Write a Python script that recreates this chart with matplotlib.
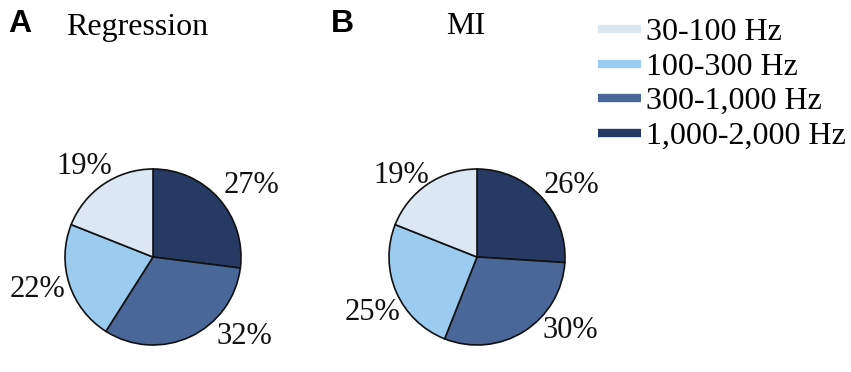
import numpy as np
import matplotlib
matplotlib.use('Agg')
import matplotlib.pyplot as plt
from matplotlib.lines import Line2D

plt.rcParams['font.family'] = 'Liberation Serif'

bands = ['30-100 Hz', '100-300 Hz', '300-1,000 Hz', '1,000-2,000 Hz']
colors = ['#dce7f4', '#9ccbf0', '#4a6799', '#263a63']

# values listed clockwise from 12 o'clock: 1,000-2,000 / 300-1,000 / 100-300 / 30-100
regression = [27, 32, 22, 19]
mi = [26, 30, 25, 19]

W, H = 851, 372
fig = plt.figure(figsize=(W / 100, H / 100), dpi=100)

R = 88  # pie radius in px
half = 1.4 * R


def pie_axes(cx, cy):
    return fig.add_axes([(cx - half) / W, (H - cy - half) / H, 2 * half / W, 2 * half / H])


def draw(ax, vals, label_pos):
    wedge_colors = colors[::-1]
    wedges, texts, autotexts = ax.pie(
        vals, colors=wedge_colors, startangle=90, counterclock=False,
        autopct=lambda p: f'{p:.0f}%', pctdistance=1.3,
        wedgeprops=dict(edgecolor='#111111', linewidth=1.2),
        textprops=dict(fontsize=22, color='#111111'))
    for t, (ang, dist) in zip(autotexts, label_pos):
        a = np.deg2rad(ang)
        t.set_position((dist * np.cos(a), dist * np.sin(a)))
        t.set_ha('center')
        t.set_va('center')
    ax.set_xlim(-1.4, 1.4)
    ax.set_ylim(-1.4, 1.4)
    ax.set_aspect('equal')
    ax.axis('off')


axA = pie_axes(153, 257)
draw(axA, regression, [(36, 1.38), (-41, 1.37), (196, 1.36), (127, 1.29)])
axB = pie_axes(477, 257)
draw(axB, mi, [(37, 1.35), (-38, 1.35), (208, 1.35), (133, 1.27)])

fig.text(8 / W, 1 - 24 / H, 'A', fontsize=23, fontweight='bold',
         family='Liberation Sans', va='center', ha='left')
fig.text(331 / W, 1 - 24 / H, 'B', fontsize=23, fontweight='bold',
         family='Liberation Sans', va='center', ha='left')
fig.text(137 / W, 1 - 27 / H, 'Regression', fontsize=23, va='center', ha='center')
fig.text(466 / W, 1 - 27 / H, 'MI', fontsize=23, va='center', ha='center')

handles = [Line2D([0], [0], color=c, lw=6, solid_capstyle='butt') for c in colors]
fig.legend(handles, bands, loc='upper left', bbox_to_anchor=(598 / W, 1 - 18 / H),
           frameon=False, fontsize=23, labelspacing=0.16, handlelength=1.35,
           handletextpad=0.15, borderpad=0, borderaxespad=0)

fig.savefig('out.png', dpi=100)
